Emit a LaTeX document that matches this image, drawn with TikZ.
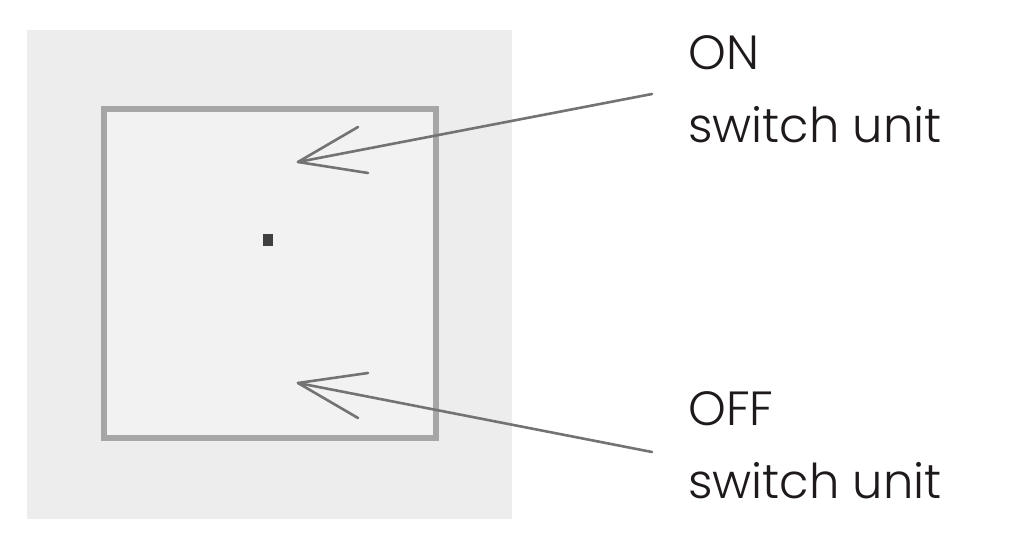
\documentclass[tikz,border=0pt]{standalone}
\usepackage{fontspec}
\newfontfamily\lbl{Poppins Light}
\definecolor{plate}{HTML}{EDEDED}
\definecolor{inner}{HTML}{F2F2F2}
\definecolor{rim}{HTML}{A6A6A6}
\definecolor{arr}{HTML}{737373}
\definecolor{txt}{HTML}{1E1A1C}
\tikzset{
  lab/.style={font=\lbl\fontsize{48}{56}\selectfont, text=txt, anchor=base west, inner sep=0pt},
  pointer/.style={draw=arr, line width=2.6pt, line cap=round, line join=round},
}
\begin{document}
\begin{tikzpicture}[x=1pt,y=-1pt]
\useasboundingbox (0,0) rectangle (1022,545);
\fill[white] (0,0) rectangle (1022,545);
% plate
\fill[plate] (27,30) rectangle (512,519);
% switch square
\draw[rim, fill=inner, line width=6pt] (104,109) rectangle (436,438);
% center LED
\fill[black!75] (263,234) rectangle (273,246);
% labels
\node[lab] (on) at (688,70) {ON};
\node[lab] (onu) at (688,143) {switch unit};
\node[lab] (off) at (688,425) {OFF};
\node[lab] (offu) at (688,498) {switch unit};
% arrows
\coordinate (ons) at (652,94);
\coordinate (ont) at (298,162);
\coordinate (offs) at (652,452);
\coordinate (offt) at (298,383);
\draw[pointer] (ons) -- (ont);
\draw[pointer] (358,127) -- (ont) -- (368,173);
\draw[pointer] (offs) -- (offt);
\draw[pointer] (368,373) -- (offt) -- (358,418);
\end{tikzpicture}
\end{document}
